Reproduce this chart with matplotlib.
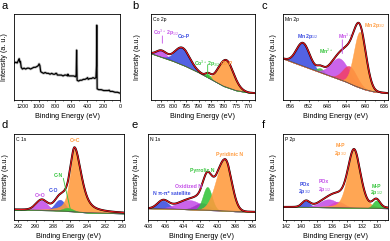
import numpy as np
import matplotlib
matplotlib.use('Agg')
import matplotlib.pyplot as plt
from matplotlib.ticker import MultipleLocator, AutoMinorLocator

plt.rcParams['font.family'] = ['Liberation Sans', 'DejaVu Sans']
plt.rcParams['mathtext.fontset'] = 'custom'
plt.rcParams['mathtext.rm'] = 'Liberation Sans'
plt.rcParams['mathtext.it'] = 'Liberation Sans:italic'
plt.rcParams['mathtext.bf'] = 'Liberation Sans:bold'

# ---- data (intensities as fraction of the axis height) ----
# a: survey spectrum
survey_be = [1300, 1280, 1265, 1250, 1240, 1232, 1225, 1215, 1200, 1180, 1160, 1140,
             1120, 1100, 1080, 1060, 1040, 1020, 1005, 995, 985, 975, 960, 940, 920,
             900, 880, 860, 840, 820, 800, 790, 780, 770, 750, 720, 700, 680, 660,
             645, 640, 630, 600, 570, 545, 538, 533, 530, 527, 510, 490, 470, 450,
             430, 410, 398, 390, 370, 350, 330, 310, 295, 288, 285, 283, 280, 260,
             230, 200, 170, 140, 133, 120, 90, 60, 30, 0]
survey_int = [0.43, 0.44, 0.43, 0.46, 0.48, 0.44, 0.45, 0.38, 0.36, 0.37, 0.36, 0.37,
              0.37, 0.36, 0.37, 0.38, 0.38, 0.39, 0.40, 0.42, 0.40, 0.33, 0.32, 0.31, 0.32,
              0.31, 0.31, 0.30, 0.31, 0.30, 0.30, 0.31, 0.31, 0.29, 0.29, 0.29, 0.28, 0.29, 0.29,
              0.28, 0.30, 0.28, 0.28, 0.28, 0.27, 0.30, 0.58, 0.40, 0.23, 0.22, 0.23, 0.23, 0.24,
              0.24, 0.25, 0.26, 0.24, 0.25, 0.25, 0.26, 0.25, 0.26, 0.40, 0.87, 0.50, 0.13, 0.12,
              0.12, 0.11, 0.11, 0.11, 0.115, 0.10, 0.10, 0.09, 0.09, 0.08]

# b: Co 2p
co_bg_be = [809, 800, 795, 790, 785, 780, 775, 770, 767.5]
co_bg_int = [0.54, 0.45, 0.39, 0.32, 0.24, 0.16, 0.11, 0.085, 0.08]
co_center = [804.8, 796.5, 786.2, 779.0]
co_height = [0.075, 0.20, 0.04, 0.315]
co_hwhm = [2.35, 3.5, 1.2, 3.5]
co_eta = [0.0, 0.0, 0.0, 0.0]
co_tail = [1.0, 1.0, 1.0, 1.0]

# c: Mn 2p
mn_bg_be = [657.4, 655, 652, 650, 648, 646, 644, 642, 640, 638, 635.2]
mn_bg_int = [0.48, 0.43, 0.37, 0.33, 0.29, 0.25, 0.21, 0.16, 0.12, 0.095, 0.08]
mn_center = [653.2, 649.5, 645.4, 643.3, 641.1]
mn_height = [0.27, 0.05, 0.245, 0.20, 0.65]
mn_hwhm = [1.65, 0.82, 2.24, 1.77, 1.53]
mn_eta = [0.0, 0.0, 0.0, 0.0, 0.0]
mn_tail = [1.0, 1.0, 1.0, 1.0, 1.0]

# d: C 1s
c_bg_be = [292.5, 288, 286, 284, 279.8]
c_bg_int = [0.12, 0.11, 0.10, 0.085, 0.075]
c_center = [289.3, 287.2, 285.5, 286.3]
c_height = [0.115, 0.13, 0.73, 0.04]
c_hwhm = [0.77, 0.71, 0.62, 0.71]
c_eta = [0.0, 0.0, 0.6, 0.0]
c_tail = [1.0, 1.0, 1.5, 1.0]

# e: N 1s
n_bg_be = [408, 404, 400, 398, 395.7]
n_bg_int = [0.135, 0.125, 0.11, 0.10, 0.095]
n_center = [406.3, 403.3, 401.8, 401.2, 399.15]
n_height = [0.095, 0.11, 0.08, 0.27, 0.60]
n_hwhm = [0.75, 1.6, 1.0, 0.6, 1.2]
n_eta = [0.0, 0.0, 0.0, 0.0, 0.0]
n_tail = [1.0, 1.0, 1.0, 1.0, 0.72]

# f: P 2p
p_bg_be = [142.4, 138, 134, 130, 128.6]
p_bg_int = [0.15, 0.148, 0.142, 0.137, 0.135]
p_center = [139.4, 136.4, 135.2, 133.05, 130.1]
p_height = [0.07, 0.095, 0.07, 0.68, 0.09]
p_hwhm = [0.6, 1.4, 1.0, 1.0, 0.55]
p_eta = [0.0, 0.0, 0.0, 0.3, 0.0]
p_tail = [1.0, 1.0, 1.0, 1.0, 1.0]

ORANGE = '#ff9a3c'
BLUE = '#3b4ce0'
PURPLE = '#c44fe8'
GREEN = '#33c43a'
PINK = '#f0406a'
VIOLET = '#a434c8'
MAGENTA = '#e044c4'
RED = '#e8141c'

W, H = 390, 241
fig = plt.figure(figsize=(W / 100, H / 100), dpi=100)


def add_panel(left, top, right, bottom):
    ax = fig.add_axes([left / W, 1 - bottom / H, (right - left) / W, (bottom - top) / H])
    for s in ax.spines.values():
        s.set_linewidth(0.6)
    ax.set_yticks([])
    ax.set_ylim(0, 1)
    ax.tick_params(axis='x', labelsize=3.9, length=1.6, width=0.5, pad=1.2)
    ax.tick_params(axis='x', which='minor', length=0.9, width=0.4)
    ax.xaxis.set_minor_locator(AutoMinorLocator(2))
    ax.set_xlabel('Binding Energy (eV)', fontsize=5.2)
    ax.xaxis.set_label_coords(0.5, -0.15)
    return ax


def pv(x, c, h, w, eta, tail):
    ww = np.where(x < c, w * tail, w)
    d2 = ((x - c) / ww) ** 2
    return h * ((1 - eta) * np.exp(-np.log(2) * d2) + eta / (1 + d2))


def fit_panel(ax, xlim, bg_be, bg_int, centers, heights, widths, etas, tails, colors, order):
    ax.set_xlim(*xlim)
    x = np.linspace(xlim[1], xlim[0], 800)
    bg = np.interp(x, bg_be[::-1], bg_int[::-1])
    comps = [pv(x, centers[i], heights[i], widths[i], etas[i], tails[i]) for i in range(len(centers))]
    for i in order:
        ax.fill_between(x, bg, bg + comps[i], color=colors[i], alpha=0.88, lw=0.3, edgecolor=colors[i])
    ax.plot(x, bg, color='#4a4a4a', lw=0.5)
    total = bg + np.sum(comps, axis=0)
    ax.plot(x, total, color='k', lw=1.4)
    ax.plot(x, total, color=RED, lw=0.8)


def lab(ax, x, y, s, color, ha='center'):
    ax.text(x, y, s, transform=ax.transAxes, fontsize=3.7, color=color,
            fontweight='bold', ha=ha, va='center')


def line(ax, p0, p1, color, head=False):
    style = '-|>' if head else '-'
    ax.annotate('', xy=p1, xytext=p0, xycoords='axes fraction',
                arrowprops=dict(arrowstyle=style, color=color, lw=0.6, mutation_scale=3,
                                shrinkA=0, shrinkB=0))


def name(ax, s):
    ax.text(0.02, 0.97, s, transform=ax.transAxes, fontsize=3.6, ha='left', va='top')


# a
ax = add_panel(14.3, 14, 119.9, 100)
ax.plot(survey_be, survey_int, color='#999999', lw=2.0, alpha=0.6)
ax.plot(survey_be, survey_int, color='k', lw=0.9)
ax.set_xlim(1300, 0)
ax.xaxis.set_major_locator(MultipleLocator(200))
ax.set_ylabel('Intensity (a. u.)', fontsize=5.2)
ax.yaxis.set_label_coords(-0.06, 0.5)

# b
ax = add_panel(151, 14, 255, 100)
fit_panel(ax, (809, 767.5), co_bg_be, co_bg_int, co_center, co_height, co_hwhm, co_eta, co_tail,
          [PURPLE, BLUE, GREEN, ORANGE], [0, 1, 3, 2])
ax.xaxis.set_major_locator(MultipleLocator(5))
ax.set_ylabel('Intensity (a.u.)', fontsize=5.2)
ax.yaxis.set_label_coords(-0.095, 0.5)
name(ax, 'Co 2p')
lab(ax, 0.015, 0.78, r'Co$^{3+}$ 2p$_{1/2}$', PURPLE, ha='left')
line(ax, (0.109, 0.745), (0.109, 0.66), PURPLE)
lab(ax, 0.26, 0.735, 'Co-P', BLUE, ha='left')
lab(ax, 0.41, 0.425, r'Co$^{3+}$ 2p$_{3/2}$', GREEN, ha='left')
line(ax, (0.545, 0.41), (0.545, 0.25), GREEN, head=True)
lab(ax, 0.67, 0.425, 'Co-P', ORANGE, ha='left')

# c
ax = add_panel(283.3, 14, 387.7, 100)
fit_panel(ax, (657.4, 635.2), mn_bg_be, mn_bg_int, mn_center, mn_height, mn_hwhm, mn_eta, mn_tail,
          [BLUE, GREEN, PURPLE, PINK, ORANGE], [0, 1, 2, 3, 4])
ax.xaxis.set_major_locator(MultipleLocator(4))
ax.set_ylabel('Intensity (a.u.)', fontsize=5.2)
ax.yaxis.set_label_coords(-0.065, 0.5)
name(ax, 'Mn 2p')
lab(ax, 0.13, 0.735, r'Mn 2p$_{1/2}$', BLUE, ha='left')
lab(ax, 0.345, 0.56, r'Mn$^{2+}$', GREEN, ha='left')
lab(ax, 0.52, 0.735, r'Mn$^{3+}$', PURPLE, ha='left')
line(ax, (0.565, 0.70), (0.565, 0.54), PURPLE)
lab(ax, 0.77, 0.87, r'Mn 2p$_{3/2}$', ORANGE, ha='left')

# d
ax = add_panel(14, 134, 124, 220)
fit_panel(ax, (292.5, 279.8), c_bg_be, c_bg_int, c_center, c_height, c_hwhm, c_eta, c_tail,
          [PURPLE, BLUE, ORANGE, GREEN], [0, 1, 2, 3])
ax.xaxis.set_major_locator(MultipleLocator(2))
ax.set_ylabel('Intensity (a.u.)', fontsize=5.2)
ax.yaxis.set_label_coords(-0.045, 0.5)
name(ax, 'C 1s')
lab(ax, 0.55, 0.92, 'C=C', ORANGE)
lab(ax, 0.405, 0.52, 'C-N', GREEN)
line(ax, (0.448, 0.485), (0.51, 0.136), GREEN)
lab(ax, 0.355, 0.34, 'C-O', BLUE)
lab(ax, 0.24, 0.287, 'C=O', PURPLE)

# e
ax = add_panel(148.3, 134, 255, 220)
fit_panel(ax, (408, 395.7), n_bg_be, n_bg_int, n_center, n_height, n_hwhm, n_eta, n_tail,
          [BLUE, PURPLE, VIOLET, GREEN, ORANGE], [0, 1, 2, 3, 4])
ax.xaxis.set_major_locator(MultipleLocator(2))
ax.set_ylabel('Intensity (a.u.)', fontsize=5.2)
ax.yaxis.set_label_coords(-0.08, 0.5)
name(ax, 'N 1s')
lab(ax, 0.766, 0.756, 'Pyridinic N', ORANGE)
lab(ax, 0.51, 0.573, 'Pyrrolic N', GREEN)
lab(ax, 0.375, 0.395, 'Oxidized N', PURPLE)
lab(ax, 0.04, 0.31, 'N \u03c0-\u03c0* satellite', BLUE, ha='left')

# f
ax = add_panel(283.3, 134, 387.7, 220)
fit_panel(ax, (142.4, 128.6), p_bg_be, p_bg_int, p_center, p_height, p_hwhm, p_eta, p_tail,
          [BLUE, PURPLE, MAGENTA, ORANGE, GREEN], [0, 1, 2, 3, 4])
ax.xaxis.set_major_locator(MultipleLocator(2))
ax.set_ylabel('Intensity (a.u.)', fontsize=5.2)
ax.yaxis.set_label_coords(-0.065, 0.5)
name(ax, 'P 2p')
lab(ax, 0.543, 0.872, 'M-P', ORANGE)
lab(ax, 0.543, 0.775, r'2p$_{3/2}$', ORANGE)
lab(ax, 0.203, 0.407, 'POx', BLUE)
lab(ax, 0.203, 0.33, r'2p$_{3/2}$', BLUE)
lab(ax, 0.39, 0.445, 'POx', PURPLE)
lab(ax, 0.39, 0.35, r'2p$_{1/2}$', PURPLE)
lab(ax, 0.895, 0.39, 'M-P', GREEN)
lab(ax, 0.895, 0.32, r'2p$_{1/2}$', GREEN)

# panel letters
for s, px, py in [('a', 2, 1), ('b', 132, 1), ('c', 262, 1), ('d', 2, 120), ('e', 132, 120), ('f', 262, 120)]:
    fig.text(px / W, 1 - py / H, s, fontsize=8, ha='left', va='top')

fig.savefig('out.png', dpi=100)
